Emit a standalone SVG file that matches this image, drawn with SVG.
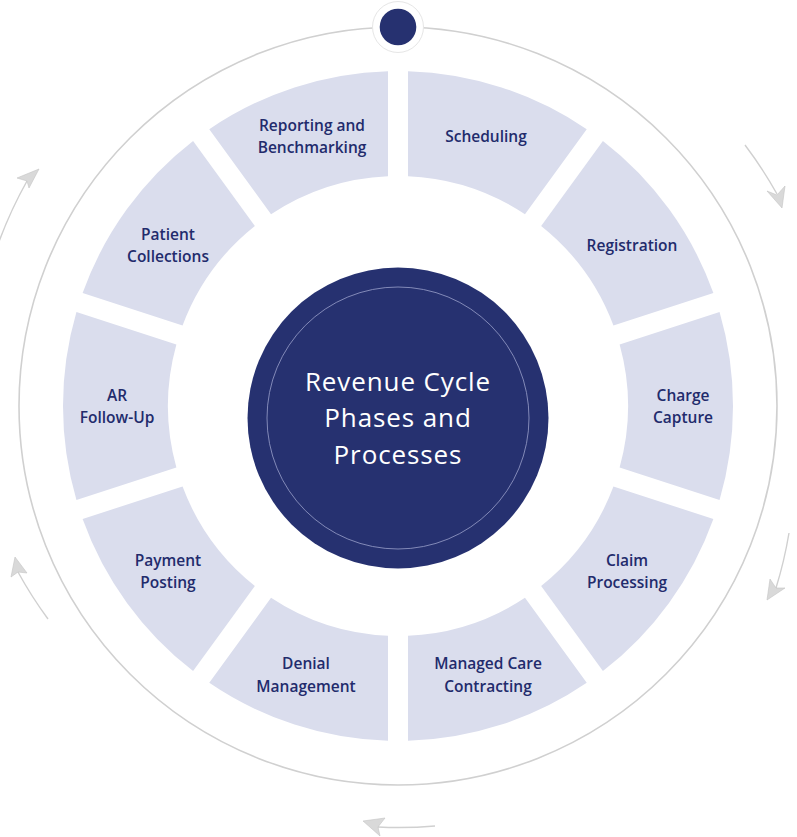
<svg xmlns="http://www.w3.org/2000/svg" width="797" height="837" viewBox="0 0 797 837">
<style>
.seg{fill:#dadded;}
.lbl{font-family:"Open Sans","Noto Sans","Liberation Sans",sans-serif;font-weight:600;font-size:15.5px;fill:#222b6c;text-anchor:middle;}
.ctr{font-family:"Open Sans","Noto Sans","Liberation Sans",sans-serif;font-weight:500;font-size:26px;fill:#ffffff;text-anchor:middle;letter-spacing:0.9px;}
.arc{fill:none;stroke:#d0d0d0;stroke-width:1.4;}
.head{fill:#d9d9d9;stroke:#c4c4c4;stroke-width:0.6;stroke-linejoin:round;}
</style>
<defs>
<path id="seg" d="M10,-334.85 A335,335 0 0 1 188.73,-276.78 L126.97,-191.77 A230,230 0 0 0 10,-229.78 Z"/>
</defs>
<rect width="797" height="837" fill="#ffffff"/>
<g id="outer-ring">
<circle cx="398" cy="406" r="379" fill="none" stroke="#d0d0d0" stroke-width="1.6"/>
<circle cx="398" cy="27" r="25.5" fill="#ffffff" stroke="#e6e6e6" stroke-width="1"/>
<circle cx="398" cy="27" r="18.3" fill="#263170"/>
</g>
<g id="connectors">
<path class="arc" d="M745,145 A430,430 0 0 1 777,194"/>
<polygon class="head" points="782,208 767,191 777,195 785,186"/>
<path class="arc" d="M789,533 A420,420 0 0 1 776,588"/>
<polygon class="head" points="767,600 770,579 776,588 785,588"/>
<path class="arc" d="M435,826 A420,420 0 0 1 378,827"/>
<polygon class="head" points="363,821 385,818 378,827 380,836"/>
<path class="arc" d="M48,619 A420,420 0 0 1 18,572"/>
<polygon class="head" points="15,557 11,577 18,572 27,573"/>
<path class="arc" d="M-4,250 A430,430 0 0 1 27,181"/>
<polygon class="head" points="39,169 17,178 27,181 29,188"/>
</g>
<g id="scheduling"><use href="#seg" class="seg" transform="translate(398,406) rotate(0)"/><text class="lbl" x="486" y="141.5">Scheduling</text></g>
<g id="registration"><use href="#seg" class="seg" transform="translate(398,406) rotate(36)"/><text class="lbl" x="632" y="251">Registration</text></g>
<g id="charge-capture"><use href="#seg" class="seg" transform="translate(398,406) rotate(72)"/><text class="lbl" x="683" y="400.7">Charge</text><text class="lbl" x="683" y="423.3">Capture</text></g>
<g id="claim-processing"><use href="#seg" class="seg" transform="translate(398,406) rotate(108)"/><text class="lbl" x="627" y="566">Claim</text><text class="lbl" x="627" y="588.3">Processing</text></g>
<g id="managed-care-contracting"><use href="#seg" class="seg" transform="translate(398,406) rotate(144)"/><text class="lbl" x="488" y="669.3">Managed Care</text><text class="lbl" x="488" y="691.7">Contracting</text></g>
<g id="denial-management"><use href="#seg" class="seg" transform="translate(398,406) rotate(180)"/><text class="lbl" x="306" y="669.3">Denial</text><text class="lbl" x="306" y="691.7">Management</text></g>
<g id="payment-posting"><use href="#seg" class="seg" transform="translate(398,406) rotate(216)"/><text class="lbl" x="168" y="566">Payment</text><text class="lbl" x="168" y="588.3">Posting</text></g>
<g id="ar-follow-up"><use href="#seg" class="seg" transform="translate(398,406) rotate(252)"/><text class="lbl" x="117" y="401">AR</text><text class="lbl" x="117" y="423.3">Follow-Up</text></g>
<g id="patient-collections"><use href="#seg" class="seg" transform="translate(398,406) rotate(288)"/><text class="lbl" x="168" y="240">Patient</text><text class="lbl" x="168" y="262.3">Collections</text></g>
<g id="reporting-benchmarking"><use href="#seg" class="seg" transform="translate(398,406) rotate(324)"/><text class="lbl" x="312" y="130.5">Reporting and</text><text class="lbl" x="312" y="152.5">Benchmarking</text></g>
<g id="center">
<circle cx="398" cy="418" r="150.5" fill="#263170"/>
<circle cx="398" cy="418" r="131" fill="none" stroke="#8c93c0" stroke-width="0.9"/>
<text class="ctr" x="398" y="390.7">Revenue Cycle</text>
<text class="ctr" x="398" y="427.3">Phases and</text>
<text class="ctr" x="398" y="464.3">Processes</text>
</g>
</svg>
